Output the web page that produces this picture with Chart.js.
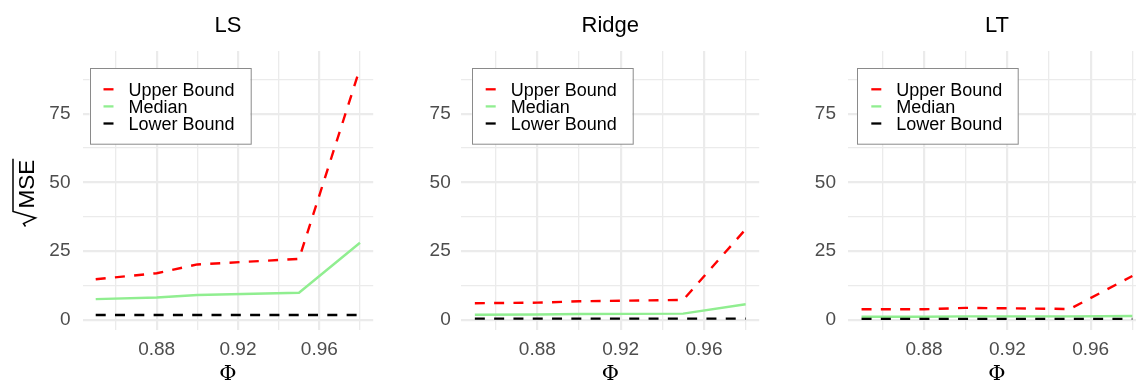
<!DOCTYPE html>
<html>
<head>
<meta charset="utf-8">
<script src="https://cdn.jsdelivr.net/npm/chart.js@4"></script>
<style>
html, body { margin: 0; padding: 0; background: #fff; overflow: hidden; }
body { width: 1136px; height: 385px; position: relative; }
.panel { position: absolute; top: 0; height: 385px; }
</style>
</head>
<body>
<div class="panel" style="left:0px;width:380px"><canvas id="ls" width="380" height="385"></canvas></div>
<div class="panel" style="left:380px;width:380px"><canvas id="ridge" width="380" height="385"></canvas></div>
<div class="panel" style="left:760px;width:400px"><canvas id="lt" width="400" height="385"></canvas></div>
<script>
// values
var phi = [0.85, 0.88, 0.90, 0.95, 0.98];
var seriesNames = ['Upper Bound', 'Median', 'Lower Bound'];

var lsUpper  = [14.8, 17.0, 20.2, 22.2, 91.5];
var lsMedian = [7.6, 8.2, 9.1, 9.9, 28.1];
var lsLower  = [1.8, 1.8, 1.8, 1.8, 1.8];

var ridgeUpper  = [6.1, 6.3, 6.8, 7.3, 33.0];
var ridgeMedian = [1.9, 2.0, 2.2, 2.3, 5.7];
var ridgeLower  = [0.5, 0.5, 0.5, 0.5, 0.5];

var ltUpper  = [3.9, 3.9, 4.4, 4.0, 16.0];
var ltMedian = [1.2, 1.2, 1.3, 1.3, 1.45];
var ltLower  = [0.4, 0.4, 0.4, 0.4, 0.4];

var xTicks = [0.86, 0.88, 0.90, 0.92, 0.94, 0.96, 0.98];
var xLabels = [0.88, 0.92, 0.96];
var yTicks = [0, 12.5, 25, 37.5, 50, 62.5, 75, 87.5];
var yLabels = [0, 25, 50, 75];

var sans = '"Liberation Sans", Arial, sans-serif';

function pts(vals) {
    return phi.map(function (p, i) { return {x: p, y: vals[i]}; });
}

function isMajorX(v) {
    return xLabels.some(function (m) { return Math.abs(m - v) < 1e-6; });
}
function isMajorY(v) {
    return yLabels.indexOf(v) >= 0;
}

// legend box + sqrt(MSE) axis title
var decorPlugin = {
    id: 'decor',
    afterDraw: function (chart, args, opts) {
        var ctx = chart.ctx, area = chart.chartArea;
        var bx = area.left + opts.legendDx, by = 68.3, bw = 160.7, bh = 75.7;
        ctx.save();
        ctx.fillStyle = '#ffffff';
        ctx.fillRect(bx, by, bw, bh);
        ctx.strokeStyle = '#8a8a8a';
        ctx.lineWidth = 1;
        ctx.strokeRect(Math.round(bx) + 0.5, Math.round(by) + 0.5, bw, bh);
        chart.data.datasets.forEach(function (ds, i) {
            var base = by + 27.7 + i * 17.1;
            ctx.setLineDash([]);
            ctx.strokeStyle = ds.borderColor;
            ctx.lineWidth = 2.3;
            ctx.beginPath();
            ctx.moveTo(bx + 14, base - 6.7);
            ctx.lineTo(bx + 24, base - 6.7);
            ctx.stroke();
            ctx.fillStyle = '#000';
            ctx.font = '18px ' + sans;
            ctx.textBaseline = 'alphabetic';
            ctx.textAlign = 'left';
            ctx.fillText(ds.label, bx + 39, base);
        });
        if (opts.yTitle) {
            var cy = (area.top + area.bottom) / 2;
            ctx.translate(33.5, cy);
            ctx.rotate(-Math.PI / 2);
            ctx.font = '22.5px ' + sans;
            ctx.fillStyle = '#000';
            ctx.textAlign = 'left';
            ctx.fillText('MSE', -18, 0);
            var w = ctx.measureText('MSE').width;
            ctx.strokeStyle = '#000';
            ctx.lineWidth = 1.5;
            ctx.beginPath();
            ctx.moveTo(-36, -8);
            ctx.lineTo(-33, -10);
            ctx.lineTo(-27.5, 2);
            ctx.lineTo(-21, -20.5);
            ctx.lineTo(-18 + w + 1, -20.5);
            ctx.stroke();
        }
        ctx.restore();
    }
};

function makeChart(id, title, upper, median, lower, p) {
    var ctx = document.getElementById(id).getContext('2d');
    return new Chart(ctx, {
        type: 'line',
        data: {
            datasets: [{
                label: seriesNames[0],
                data: pts(upper),
                borderColor: '#ff0000',
                borderDash: [10, 9.3],
                borderWidth: 2.4,
                order: 2
            }, {
                label: seriesNames[1],
                data: pts(median),
                borderColor: '#90ee90',
                borderWidth: 2.4,
                order: 1
            }, {
                label: seriesNames[2],
                data: pts(lower),
                borderColor: '#000000',
                borderDash: [10, 9.3],
                borderWidth: 2.4,
                order: 0
            }]
        },
        options: {
            responsive: false,
            animation: false,
            events: [],
            layout: { padding: { left: 0, right: p.padRight, top: 0, bottom: 0 } },
            elements: { point: { radius: 0 }, line: { tension: 0 } },
            plugins: {
                legend: { display: false },
                tooltip: { enabled: false },
                title: {
                    display: true,
                    text: title,
                    fullSize: false,
                    color: '#000',
                    font: { family: sans, size: 22, weight: 'normal', lineHeight: 1.2 },
                    padding: { top: 12.5, bottom: 12.1 }
                },
                decor: { legendDx: p.legendDx, yTitle: p.yTitle }
            },
            scales: {
                x: {
                    type: 'linear',
                    min: 0.8435,
                    max: 0.9865,
                    afterBuildTicks: function (s) {
                        s.ticks = xTicks.map(function (v) { return {value: v}; });
                    },
                    afterFit: function (s) { s.height = 55; },
                    ticks: {
                        padding: 8.5,
                        color: '#4d4d4d',
                        maxRotation: 0,
                        autoSkip: false,
                        font: { family: sans, size: 19 },
                        callback: function (v) { return isMajorX(v) ? v.toFixed(2) : ''; }
                    },
                    grid: {
                        drawTicks: false,
                        color: '#ebebeb',
                        lineWidth: function (c) { return isMajorX(c.tick.value) ? 2.2 : 1.3; }
                    },
                    border: { display: false },
                    title: {
                        display: true,
                        text: 'Φ',
                        color: '#000',
                        font: { family: '"DejaVu Serif", "Liberation Serif", serif', size: 21, lineHeight: 1 },
                        padding: { top: 0, bottom: 0 }
                    }
                },
                y: {
                    type: 'linear',
                    min: -3.64,
                    max: 97.8,
                    afterBuildTicks: function (s) {
                        s.ticks = yTicks.map(function (v) { return {value: v}; });
                    },
                    afterFit: function (s) { s.width = p.yWidth; },
                    ticks: {
                        padding: p.tickPad,
                        color: '#4d4d4d',
                        autoSkip: false,
                        font: { family: sans, size: 19 },
                        callback: function (v) { return isMajorY(v) ? String(v) : ''; }
                    },
                    grid: {
                        drawTicks: false,
                        color: '#ebebeb',
                        lineWidth: function (c) { return isMajorY(c.tick.value) ? 2.2 : 1.3; }
                    },
                    border: { display: false }
                }
            }
        },
        plugins: [decorPlugin]
    });
}

window.lsChart = makeChart('ls', 'LS', lsUpper, lsMedian, lsLower,
    { yWidth: 82.5, padRight: 6.8, legendDx: 7, tickPad: 12, yTitle: true });
window.ridgeChart = makeChart('ridge', 'Ridge', ridgeUpper, ridgeMedian, ridgeLower,
    { yWidth: 81.3, padRight: 0.8, legendDx: 10.4, tickPad: 10.6, yTitle: false });
window.ltChart = makeChart('lt', 'LT', ltUpper, ltMedian, ltLower,
    { yWidth: 88, padRight: 14.1, legendDx: 9.3, tickPad: 12, yTitle: false });
</script>
</body>
</html>
